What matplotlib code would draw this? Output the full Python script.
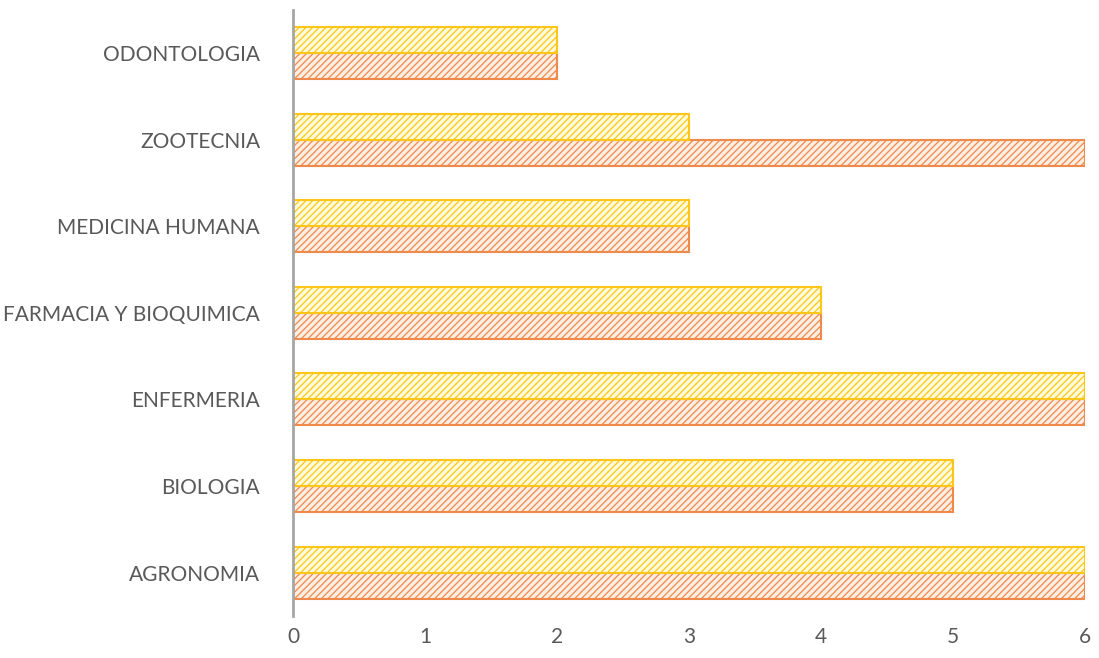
import matplotlib.pyplot as plt
import numpy as np

categories = ['AGRONOMIA', 'BIOLOGIA', 'ENFERMERIA', 'FARMACIA Y BIOQUIMICA',
              'MEDICINA HUMANA', 'ZOOTECNIA', 'ODONTOLOGIA']
serie_amarilla = [6, 5, 6, 4, 3, 3, 2]
serie_naranja = [6, 5, 6, 4, 3, 6, 2]
x_ticks = [0, 1, 2, 3, 4, 5, 6]

plt.rcParams['font.family'] = ['Lato', 'DejaVu Sans']
plt.rcParams['hatch.linewidth'] = 0.9

fig = plt.figure(figsize=(10.99, 6.58), dpi=100)
ax = fig.add_axes([0.267, 0.064, 0.72, 0.921])

y = np.arange(len(categories))
h = 0.3

ax.barh(y - h / 2, serie_naranja, height=h, color='#FCEEE3', edgecolor='#F08A4B',
        hatch='/////', linewidth=1.5)
ax.barh(y + h / 2, serie_amarilla, height=h, color='#FFFCDA', edgecolor='#FFC61A',
        hatch='/////', linewidth=1.5)

ax.set_xlim(0, 6)
ax.set_ylim(-0.5, len(categories) - 0.5)
ax.set_xticks(x_ticks)
ax.set_yticks(y)
ax.set_yticklabels(categories)
ax.tick_params(axis='both', length=0, labelsize=15, colors='#595959')
ax.tick_params(axis='y', pad=24)
ax.tick_params(axis='x', pad=8)

for s in ['top', 'right', 'bottom']:
    ax.spines[s].set_visible(False)
ax.spines['left'].set_color('#A6A6A6')
ax.spines['left'].set_linewidth(2)

fig.savefig('out.png', dpi=100)
